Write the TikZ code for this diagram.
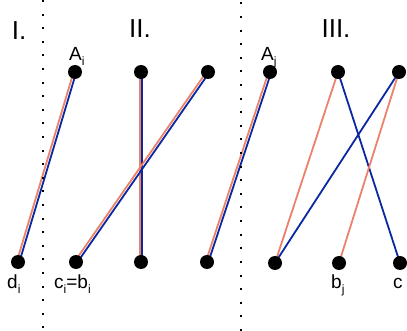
\documentclass[tikz,border=0pt]{standalone}
\usepackage{fontspec}
\setmainfont{Liberation Sans}
\usetikzlibrary{
    positioning,
    backgrounds
}
\definecolor{salmon}{RGB}{236,130,106}
\definecolor{darkblue}{RGB}{10,40,160}
\tikzstyle{dot} = [
    circle,
    fill=black,
    minimum size=14pt,
    inner sep=0pt
]
\tikzstyle{redline} = [
    draw=salmon,
    line width=1.8pt
]
\tikzstyle{blueline} = [
    draw=darkblue,
    line width=1.8pt
]
\tikzstyle{sep} = [
    line width=2pt,
    dash pattern=on 2pt off 11.6pt
]
\tikzstyle{title} = [
    font=\fontsize{26}{26}\selectfont,
    inner sep=0pt,
    anchor=base
]
\tikzstyle{lab} = [
    font=\fontsize{19}{19}\selectfont,
    inner sep=0pt,
    anchor=base west
]
\newcommand{\lowsub}[1]{\raisebox{-5pt}{\fontsize{12}{12}\selectfont #1}}

\begin{document}
\begin{tikzpicture}[x=1pt, y=-1pt]
        \useasboundingbox (0,0) rectangle (407,331);
        \clip (0,0) rectangle (407,331);

        % Dotted separators
        \draw[sep] (43,0) -- (43,331);
        \draw[sep, dash phase=-2.5pt] (241,0) -- (241,331);

        % Case titles
        \node[title] at (19,40) {I.};
        \node[title] at (140,38) {II.};
        \node[title] at (336,38) {III.};

        % Points, case I
        \node[dot] (ai) at (75,72) {};
        \node[dot] (di) at (18,262) {};

        % Points, case II
        \node[dot] (p) at (141,72) {};
        \node[dot] (q) at (208,72) {};
        \node[dot] (ci) at (76,262) {};
        \node[dot] (r) at (141,262) {};
        \node[dot] (s) at (207,262) {};

        % Points, case III
        \node[dot] (aj) at (270,72) {};
        \node[dot] (t) at (338,72) {};
        \node[dot] (u) at (399,72) {};
        \node[dot] (v) at (275,263) {};
        \node[dot] (bj) at (339,263) {};
        \node[dot] (cj) at (400,263) {};

        % Segments (behind the points)
        \begin{scope}[on background layer]
            \draw[redline] ([xshift=-1.35pt]ai.center) -- ([xshift=-1.35pt]di.center);
            \draw[blueline] ([xshift=1.35pt]ai.center) -- ([xshift=1.35pt]di.center);

            \draw[redline] ([xshift=-1.3pt]p.center) -- ([xshift=-1.3pt]r.center);
            \draw[blueline] ([xshift=1.3pt]p.center) -- ([xshift=1.3pt]r.center);
            \draw[redline] ([xshift=-1.6pt]q.center) -- ([xshift=-1.6pt]ci.center);
            \draw[blueline] ([xshift=1.6pt]q.center) -- ([xshift=1.6pt]ci.center);

            \draw[redline] ([xshift=-1.35pt]aj.center) -- ([xshift=-1.35pt]s.center);
            \draw[blueline] ([xshift=1.35pt]aj.center) -- ([xshift=1.35pt]s.center);

            \draw[redline] (t.center) -- (v.center);
            \draw[blueline] (t.center) -- (cj.center);
            \draw[blueline] (u.center) -- (v.center);
            \draw[redline] (u.center) -- (bj.center);
        \end{scope}

        % Labels
        \node[lab] at (69,61) {A\lowsub{i}};
        \node[lab] at (261,61) {A\lowsub{j}};
        \node[lab] at (7,288) {d\lowsub{i}};
        \node[lab] at (54,288) {c\lowsub{i}=b\lowsub{i}};
        \node[lab] at (331,288) {b\lowsub{j}};
        \node[lab] at (393,288) {c};
    \end{tikzpicture}
\end{document}
